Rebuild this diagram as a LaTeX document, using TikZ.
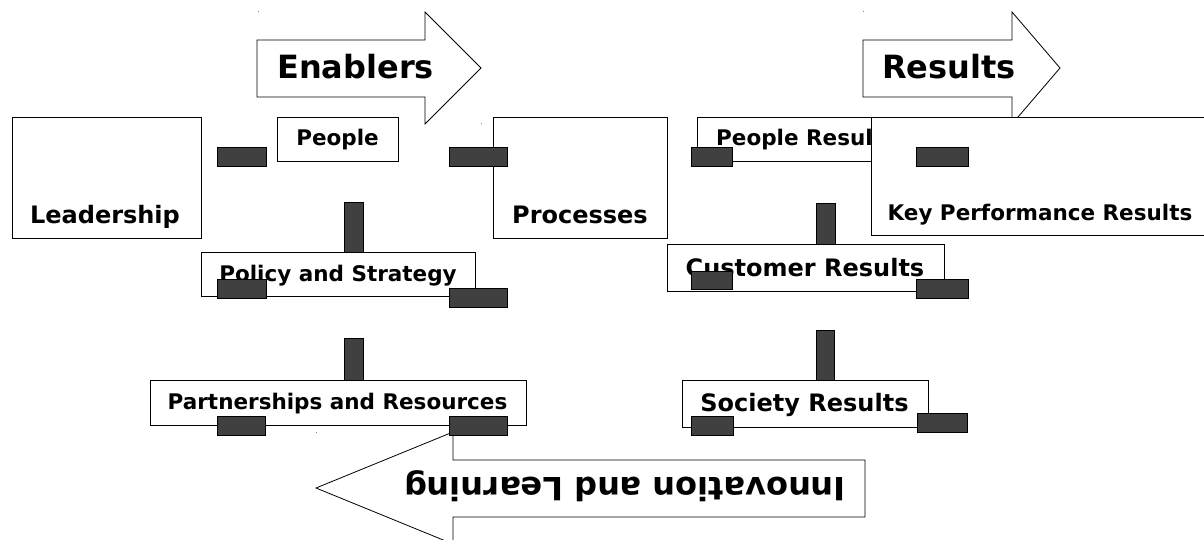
\documentclass[tikz,border=0pt]{standalone}
\usepackage{fontspec}
\setmainfont{DejaVu Sans}

\definecolor{bargray}{RGB}{64,64,64}

\begin{document}
\begin{tikzpicture}
     [
     x=1pt, y=-1pt,
     every node/.style={font=\bfseries},
     blk/.style={draw=black, line width=0.9pt, fill=white, anchor=north west, inner sep=0pt},
     bar/.style={draw=black, line width=0.8pt, fill=bargray, anchor=north west, inner sep=0pt},
     bigarrow/.style={draw=black, line width=0.8pt, fill=white, line join=miter},
     txt/.style={anchor=base, inner sep=0pt, font=\bfseries\fontsize{21.5}{24}\selectfont},
     bigtxt/.style={anchor=base, inner sep=0pt, font=\bfseries\fontsize{24}{28}\selectfont},
     arrtxt/.style={anchor=base, inner sep=0pt, font=\bfseries\fontsize{32}{36}\selectfont},
     speck/.style={fill=gray, inner sep=0pt, minimum size=1pt}
     ]
     \useasboundingbox (0,0) rectangle (1204,540);

     % direction arrows on top
     \draw[bigarrow] (257,40) -- (425,40) -- (425,12) -- (481,68) -- (425,124) -- (425,97) -- (257,97) -- cycle;
     \node[arrtxt] (enablers) at (355.5,79) {Enablers};
     \draw[bigarrow] (863,40) -- (1012,40) -- (1012,12) -- (1060,68) -- (1012,124) -- (1012,97) -- (863,97) -- cycle;
     \node[arrtxt] (results) at (949,79) {Results};
     \node[speck] (s1) at (258,12) {};
     \node[speck] (s2) at (481,124) {};
     \node[speck] (s3) at (863,12) {};

     % enablers
     \node[blk, minimum width=189pt, minimum height=121pt] (lead) at (12,117) {};
     \node[bigtxt] (lead-t) at (105,223) {Leadership};
     \node[blk, minimum width=121pt, minimum height=44pt] (people) at (277,117) {};
     \node[txt] (people-t) at (337.5,146) {People};
     \node[blk, minimum width=174.5pt, minimum height=121pt] (proc) at (492.5,117) {};
     \node[bigtxt] (proc-t) at (580,223) {Processes};
     \node[blk, minimum width=274pt, minimum height=44pt] (policy) at (201,252) {};
     \node[txt] (policy-t) at (338,281) {Policy and Strategy};
     \node[blk, minimum width=376pt, minimum height=45pt] (partner) at (150,380) {};
     \node[txt] (partner-t) at (337.5,409) {Partnerships and Resources};

     % results
     \node[blk, minimum width=229pt, minimum height=44pt] (pres) at (696.5,117) {};
     \node[txt] (pres-t) at (806,146) {People Results};
     \node[blk, minimum width=333pt, minimum height=118pt] (kpr) at (871,117) {};
     \node[txt] (kpr-t) at (1040,221) {Key Performance Results};
     \node[blk, minimum width=277.5pt, minimum height=47pt] (cust) at (666.5,244) {};
     \node[bigtxt] (cust-t) at (805,276) {Customer Results};
     \node[blk, minimum width=246pt, minimum height=47pt] (soc) at (682,380) {};
     \node[bigtxt] (soc-t) at (804.5,411) {Society Results};

     % feedback arrow
     \draw[bigarrow] (865,460) -- (453,460) -- (453,432) -- (316,488) -- (453,544) -- (453,517) -- (865,517) -- cycle;
     \node[arrtxt, rotate=180] (innov) at (625,477.5) {Innovation and Learning};
     \node[speck] (s4) at (316,432) {};

     % bars
     \node[bar, minimum width=49pt, minimum height=19pt] (b1) at (217,147) {};
     \node[bar, minimum width=58pt, minimum height=19pt] (b2) at (449,147) {};
     \node[bar, minimum width=19pt, minimum height=50pt] (b3) at (344,202) {};
     \node[bar, minimum width=49pt, minimum height=19pt] (b4) at (217,279) {};
     \node[bar, minimum width=58pt, minimum height=19pt] (b5) at (449,288) {};
     \node[bar, minimum width=19pt, minimum height=42pt] (b6) at (344,338) {};
     \node[bar, minimum width=48pt, minimum height=19pt] (b7) at (217,416) {};
     \node[bar, minimum width=58pt, minimum height=19pt] (b8) at (449,416) {};
     \node[bar, minimum width=41pt, minimum height=19pt] (b9) at (691,147) {};
     \node[bar, minimum width=52pt, minimum height=19pt] (b10) at (916,147) {};
     \node[bar, minimum width=19pt, minimum height=41pt] (b11) at (816,203) {};
     \node[bar, minimum width=41pt, minimum height=18pt] (b12) at (691,271) {};
     \node[bar, minimum width=52pt, minimum height=19pt] (b13) at (916,279) {};
     \node[bar, minimum width=18pt, minimum height=50pt] (b14) at (816,330) {};
     \node[bar, minimum width=42pt, minimum height=19pt] (b15) at (691,416) {};
     \node[bar, minimum width=50pt, minimum height=19pt] (b16) at (917,413) {};
\end{tikzpicture}
\end{document}
